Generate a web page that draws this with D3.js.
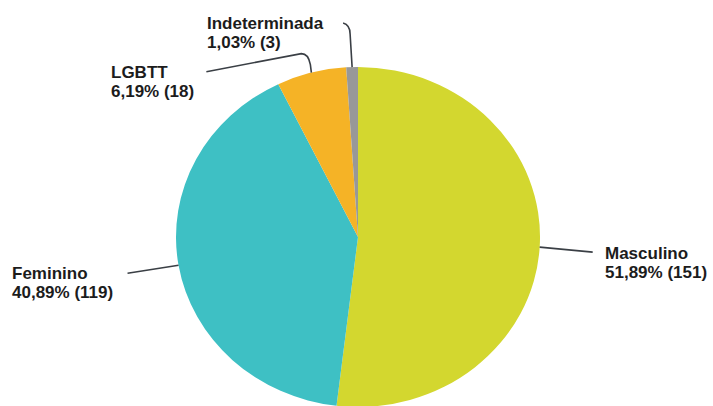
<!DOCTYPE html>
<html>
<head>
<meta charset="utf-8">
<script src="https://cdn.jsdelivr.net/npm/d3@7"></script>
<style>
  body { margin: 0; background: #fff; }
  text { font-family: "Liberation Sans", Arial, sans-serif; font-weight: bold; font-size: 17px; fill: #1c1c1c; }
</style>
</head>
<body>
<script>
const width = 713;
const height = 406;

// data
const categories = ['Masculino', 'Feminino', 'LGBTT', 'Indeterminada'];
const counts = [151, 119, 18, 3];
const colors = ['#d3d72f', '#3ec0c4', '#f5b326', '#989898'];

// label layout: text start + first baseline
const labelPos = [
  { x: 605, y: 259 },
  { x: 12, y: 279 },
  { x: 111, y: 78 },
  { x: 207, y: 29 }
];

const cx = 358;
const cy = 237;
const rx = 182;
const ry = 170;

const total = d3.sum(counts);
const fmt = v => d3.format('.2f')(v).replace('.', ',');

const data = categories.map((c, i) => ({ name: c, value: counts[i], color: colors[i] }));

const svg = d3.select('body').append('svg')
  .attr('width', width)
  .attr('height', height);

const pie = d3.pie().sort(null).value(d => d.value);
const arcs = pie(data);

const arc = d3.arc().innerRadius(0).outerRadius(1);

// slightly squashed pie, like the original picture
const g = svg.append('g')
  .attr('transform', `translate(${cx}, ${cy}) scale(${rx}, ${ry})`);

g.selectAll('path')
  .data(arcs)
  .enter()
  .append('path')
  .attr('d', arc)
  .attr('fill', d => d.data.color);

// point on the ellipse edge at the middle of a slice
const edge = (d) => {
  const a = (d.startAngle + d.endAngle) / 2;
  return [cx + rx * Math.sin(a), cy - ry * Math.cos(a)];
};

const leader = (d, i) => {
  const [x, y] = edge(d);
  if (i === 0) return `M${x},${y} L${x + 53},${y + 5}`;
  if (i === 1) return `M${x},${y} L${x - 51},${y + 8}`;
  if (i === 2) {
    return `M${x},${y} L${x - 1},${y - 8} Q${x - 3},${y - 19} ${x - 10},${y - 19} L${x - 105},${y - 1}`;
  }
  return `M${x},${y} L${x - 2},${y - 33} Q${x - 2},${y - 42} ${x - 9},${y - 44}`;
};

svg.selectAll('path.leader')
  .data(arcs)
  .enter()
  .append('path')
  .attr('class', 'leader')
  .attr('d', leader)
  .attr('fill', 'none')
  .attr('stroke', '#3a3f45')
  .attr('stroke-width', 1.6);

const labels = svg.selectAll('text.lbl')
  .data(arcs)
  .enter()
  .append('text')
  .attr('class', 'lbl')
  .attr('x', (d, i) => labelPos[i].x)
  .attr('y', (d, i) => labelPos[i].y);

labels.append('tspan')
  .attr('x', (d, i) => labelPos[i].x)
  .text(d => d.data.name);

labels.append('tspan')
  .attr('x', (d, i) => labelPos[i].x)
  .attr('dy', 19)
  .text(d => `${fmt(d.data.value / total * 100)}% (${d.data.value})`);
</script>
</body>
</html>
